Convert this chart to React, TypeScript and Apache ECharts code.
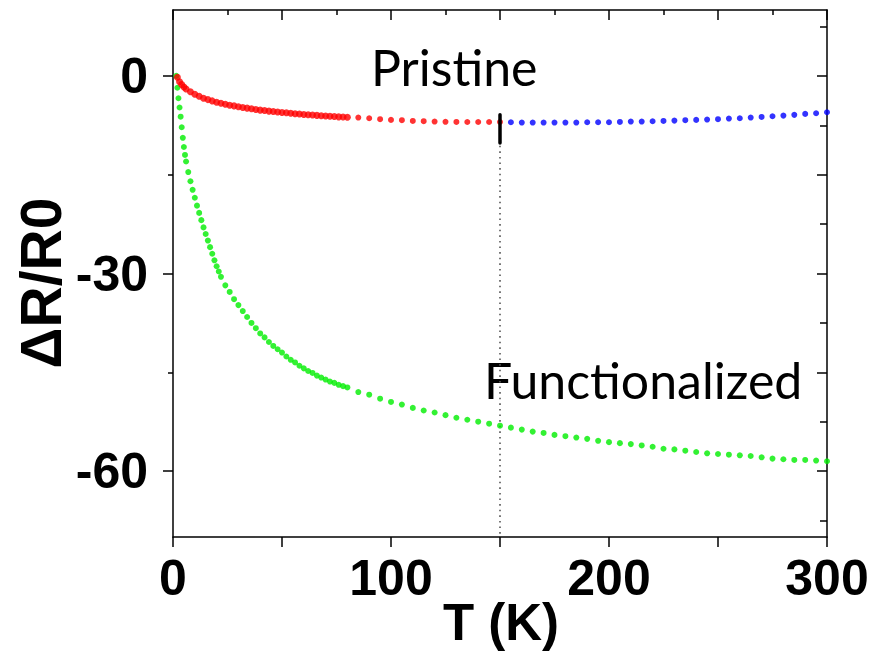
import React, { useEffect, useRef } from "react";
import * as echarts from "echarts";

// Temperature axis (K) and relative resistance change axis (%)
const T_MIN = 0;
const T_MAX = 300;
const R_MIN = -70;
const R_MAX = 10;
const X_LABEL_VALUES = [0, 100, 200, 300];
const Y_LABEL_VALUES = [-60, -30, 0];
const Y_MINOR_LEFT = [-45, -15];
const Y_MAJOR_RIGHT = [-60, -45, -30, -15, 0];
const Y_MINOR_RIGHT = [-67.5, -52.5, -37.5, -22.5, -7.5, 7.5];
const CROSSOVER_T = 150;
const CROSSOVER_BAR = [-5.9, -10.2];

// Pristine sample, low-temperature dense sweep
const pristineLowT = [2, 3, 4, 5, 6, 8, 10, 12, 14, 16, 18, 20, 22, 24, 26, 28, 30, 32, 34, 36, 38, 40, 42, 44, 46, 48, 50, 52, 54, 56, 58, 60, 62, 64, 66, 68, 70, 72, 74, 76, 78, 80];
const pristineLowR = [-0.2, -0.9, -1.3, -1.7, -2.0, -2.4, -2.8, -3.1, -3.4, -3.6, -3.8, -4.0, -4.15, -4.3, -4.45, -4.55, -4.7, -4.8, -4.9, -5.0, -5.1, -5.2, -5.25, -5.35, -5.4, -5.48, -5.55, -5.6, -5.68, -5.74, -5.8, -5.85, -5.9, -5.95, -6.0, -6.05, -6.1, -6.14, -6.18, -6.22, -6.25, -6.28];

// Pristine sample, sparse sweep up to the crossover
const pristineMidT = [85, 90, 95, 100, 105, 110, 115, 120, 125, 130, 135, 140, 145, 150];
const pristineMidR = [-6.33, -6.43, -6.58, -6.68, -6.73, -6.84, -6.88, -6.94, -6.97, -6.99, -7.0, -7.0, -7.0, -7.0];

// Pristine sample above the crossover
const pristineHighT = [155, 160, 165, 170, 175, 180, 185, 190, 195, 200, 205, 210, 215, 220, 225, 230, 235, 240, 245, 250, 255, 260, 265, 270, 275, 280, 285, 290, 295, 300];
const pristineHighR = [-7.04, -7.09, -7.09, -7.09, -7.09, -7.09, -7.09, -7.04, -7.04, -7.04, -6.99, -6.94, -6.94, -6.89, -6.84, -6.79, -6.73, -6.68, -6.63, -6.58, -6.48, -6.43, -6.33, -6.23, -6.13, -6.03, -5.92, -5.77, -5.67, -5.52];

// Functionalized sample, dense low-temperature sweep
const funcLowT = [1.5, 2, 2.5, 3, 3.5, 4, 4.5, 5, 5.5, 6, 7, 8, 9, 10, 11, 12, 13, 14, 15, 16, 17, 18, 19, 20, 21, 22, 24, 26, 28, 30, 32, 34, 36, 38, 40, 42, 44, 46, 48, 50, 52, 54, 56, 58, 60, 62, 64, 66, 68, 70, 72, 74, 76, 78, 80];
const funcLowR = [0, -1.8, -3.4, -4.8, -6.2, -7.8, -9.4, -10.8, -12.0, -13.0, -14.6, -16.0, -17.3, -18.5, -19.7, -20.8, -21.9, -23.0, -24.0, -25.0, -26.0, -27.0, -28.0, -28.9, -29.7, -30.5, -31.8, -32.8, -33.9, -34.8, -35.7, -36.6, -37.5, -38.3, -39.1, -39.7, -40.4, -41.0, -41.5, -42.0, -42.6, -43.1, -43.5, -44.0, -44.4, -44.8, -45.1, -45.5, -45.8, -46.1, -46.4, -46.6, -46.9, -47.1, -47.3];

// Functionalized sample, sparse sweep to room temperature
const funcHighT = [85, 90, 95, 100, 105, 110, 115, 120, 125, 130, 135, 140, 145, 150, 155, 160, 165, 170, 175, 180, 185, 190, 195, 200, 205, 210, 215, 220, 225, 230, 235, 240, 245, 250, 255, 260, 265, 270, 275, 280, 285, 290, 295, 300];
const funcHighR = [-48.0, -48.4, -49.0, -49.5, -49.9, -50.4, -50.8, -51.1, -51.5, -51.9, -52.2, -52.5, -52.8, -53.1, -53.4, -53.7, -54.0, -54.2, -54.5, -54.7, -54.9, -55.1, -55.4, -55.6, -55.75, -55.9, -56.1, -56.3, -56.6, -56.7, -56.9, -57.1, -57.3, -57.4, -57.5, -57.6, -57.7, -57.9, -58.1, -58.2, -58.3, -58.3, -58.4, -58.5];

const zip = (xs: number[], ys: number[]) => xs.map((x, i) => [x, ys[i]]);

const TICK_FONT = "'Liberation Sans', Arial, sans-serif";
const NOTE_FONT = "Lato, 'Open Sans', sans-serif";
const LINE = { color: "#000", width: 1.5 };

export default function App() {
  const ref = useRef<HTMLDivElement>(null);

  useEffect(() => {
    if (!ref.current) return;
    const chart = echarts.init(ref.current, null, { renderer: "svg" });

    const dot = (color: string, size: number) => ({
      type: "scatter" as const,
      symbol: "circle",
      symbolSize: size,
      itemStyle: { color },
      xAxisIndex: 0,
      yAxisIndex: 0,
      silent: true,
    });

    const tickLabel = {
      color: "#000",
      fontFamily: TICK_FONT,
      fontWeight: "bold" as const,
      fontSize: 50,
    };

    chart.setOption({
      animation: false,
      backgroundColor: "#fff",
      grid: { left: 173, right: 47, top: 10, bottom: 115, containLabel: false },
      xAxis: [
        {
          type: "value",
          position: "bottom",
          min: T_MIN,
          max: T_MAX,
          interval: 50,
          axisLine: { show: true, onZero: false, lineStyle: LINE },
          axisTick: { show: true, inside: false, length: 10, lineStyle: LINE },
          axisLabel: { customValues: X_LABEL_VALUES, margin: 16, ...tickLabel },
          splitLine: { show: false },
        },
        {
          type: "value",
          position: "top",
          min: T_MIN,
          max: T_MAX,
          interval: 50,
          axisLine: { show: true, onZero: false, lineStyle: LINE },
          axisTick: { show: true, inside: true, length: 10, lineStyle: LINE },
          minorTick: { show: true, splitNumber: 2, length: 5, lineStyle: LINE },
          axisLabel: { show: false },
          splitLine: { show: false },
        },
      ],
      yAxis: [
        {
          type: "value",
          position: "left",
          min: R_MIN,
          max: R_MAX,
          axisLine: { show: true, onZero: false, lineStyle: LINE },
          axisTick: { show: true, inside: false, length: 10, customValues: Y_LABEL_VALUES, lineStyle: LINE },
          axisLabel: { customValues: Y_LABEL_VALUES, margin: 25, ...tickLabel },
          splitLine: { show: false },
        },
        {
          type: "value",
          position: "left",
          min: R_MIN,
          max: R_MAX,
          axisLine: { show: false, onZero: false },
          axisLabel: { show: false },
          splitLine: { show: false },
          axisTick: { show: true, inside: false, length: 5, customValues: Y_MINOR_LEFT, lineStyle: LINE },
        },
        {
          type: "value",
          position: "right",
          min: R_MIN,
          max: R_MAX,
          axisLine: { show: true, onZero: false, lineStyle: LINE },
          axisLabel: { show: false },
          splitLine: { show: false },
          axisTick: { show: true, inside: true, length: 10, customValues: Y_MAJOR_RIGHT, lineStyle: LINE },
        },
        {
          type: "value",
          position: "right",
          min: R_MIN,
          max: R_MAX,
          axisLine: { show: false, onZero: false },
          axisLabel: { show: false },
          splitLine: { show: false },
          axisTick: { show: true, inside: true, length: 7, customValues: Y_MINOR_RIGHT, lineStyle: LINE },
        },
      ],
      series: [
        {
          type: "line",
          data: [
            [CROSSOVER_T, CROSSOVER_BAR[1] - 0.4],
            [CROSSOVER_T, R_MIN],
          ],
          symbol: "none",
          lineStyle: { color: "#555", width: 1.6, type: [1.6, 4] },
          silent: true,
          z: 1,
        },
        { ...dot("#ff0000", 7), data: zip(pristineLowT, pristineLowR), z: 3 },
        { ...dot("#ff0000", 6), data: zip(pristineMidT, pristineMidR), z: 3 },
        { ...dot("#0000ff", 6), data: zip(pristineHighT, pristineHighR), z: 3 },
        { ...dot("#00ee00", 6), data: zip(funcLowT, funcLowR), z: 2 },
        { ...dot("#00ee00", 6), data: zip(funcHighT, funcHighR), z: 2 },
        {
          type: "line",
          data: [
            [CROSSOVER_T, CROSSOVER_BAR[0]],
            [CROSSOVER_T, CROSSOVER_BAR[1]],
          ],
          symbol: "none",
          lineStyle: { color: "#000", width: 3.5, cap: "round" },
          silent: true,
          z: 4,
        },
      ],
      graphic: [
        {
          type: "text",
          left: 371,
          top: 42,
          style: { text: "Pristine", fill: "#000", font: `50px ${NOTE_FONT}` },
        },
        {
          type: "text",
          left: 484,
          top: 355,
          style: { text: "Functionalized", fill: "#000", font: `50px ${NOTE_FONT}` },
        },
        {
          type: "text",
          x: 41,
          y: 283,
          rotation: Math.PI / 2,
          style: {
            text: "ΔR/R0",
            fill: "#000",
            font: `bold 57px ${TICK_FONT}`,
            align: "center",
            verticalAlign: "middle",
          },
        },
        {
          type: "text",
          x: 501,
          y: 622,
          style: {
            text: "T (K)",
            fill: "#000",
            font: `bold 51px ${TICK_FONT}`,
            align: "center",
            verticalAlign: "middle",
          },
        },
      ],
    });

    return () => chart.dispose();
  }, []);

  return (
    <div
      ref={ref}
      style={{ position: "absolute", left: 0, top: 0, width: 874, height: 652 }}
    />
  );
}
